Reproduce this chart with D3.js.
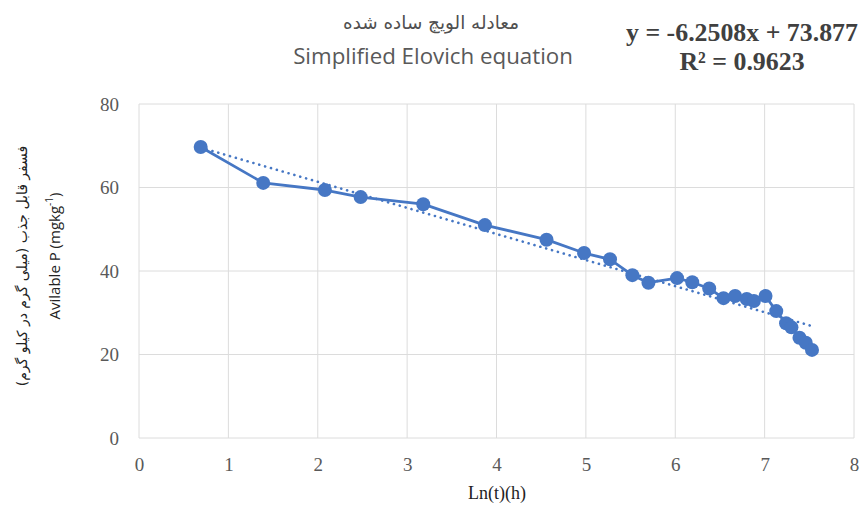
<!DOCTYPE html>
<html>
<head>
<meta charset="utf-8">
<script src="https://cdn.jsdelivr.net/npm/d3@7"></script>
<style>
  html, body { margin: 0; padding: 0; background: #fff; }
  svg { display: block; }
</style>
</head>
<body>
<svg id="chart" width="867" height="511"></svg>
<script>
// ---- data ----
const lnT = [0.69, 1.39, 2.08, 2.48, 3.18, 3.87, 4.56, 4.98, 5.27, 5.52, 5.70,
             6.02, 6.19, 6.38, 6.54, 6.67, 6.80, 6.88, 7.01, 7.13, 7.24, 7.30, 7.39, 7.46, 7.53];
const availP = [69.7, 61.1, 59.4, 57.7, 56.0, 51.0, 47.5, 44.3, 42.8, 39.0, 37.2,
                38.3, 37.3, 35.8, 33.5, 34.0, 33.3, 32.8, 34.0, 30.4, 27.5, 26.5, 24.0, 22.8, 21.1];
const xTicks = [0, 1, 2, 3, 4, 5, 6, 7, 8];
const yTicks = [0, 20, 40, 60, 80];
const slope = -6.2508, intercept = 73.877;
const titleFa = "معادله الویچ ساده شده";
const titleEn = "Simplified Elovich equation";
const eqText = "y = -6.2508x + 73.877";
const r2Text = "R² = 0.9623";
const xLabel = "Ln(t)(h)";
const yLabelFa = "فسفر قابل جذب (میلی گرم در کیلو گرم)";

// ---- layout ----
const svg = d3.select("#chart");
const L = 139, R = 854, T = 104, B = 438;
const x = d3.scaleLinear().domain([0, 8]).range([L, R]);
const y = d3.scaleLinear().domain([0, 80]).range([B, T]);
const blue = "#4677c4";
const grid = "#dcdcdc";

function fit(t, base, w) {
  const len = t.node().getComputedTextLength();
  t.attr("font-size", base * w / len);
}

// gridlines
svg.append("g").selectAll("line").data(xTicks).join("line")
  .attr("x1", d => x(d)).attr("x2", d => x(d)).attr("y1", T).attr("y2", B)
  .attr("stroke", grid).attr("stroke-width", 1);
svg.append("g").selectAll("line").data(yTicks).join("line")
  .attr("x1", L).attr("x2", R).attr("y1", d => y(d)).attr("y2", d => y(d))
  .attr("stroke", grid).attr("stroke-width", 1);

// axes (labels only)
const xAxis = svg.append("g").attr("transform", `translate(0,${B})`)
  .call(d3.axisBottom(x).tickValues(xTicks).tickSize(0).tickPadding(20).tickFormat(d3.format("d")));
const yAxis = svg.append("g").attr("transform", `translate(${L},0)`)
  .call(d3.axisLeft(y).tickValues(yTicks).tickSize(0).tickPadding(20).tickFormat(d3.format("d")));
[xAxis, yAxis].forEach(a => {
  a.select(".domain").remove();
  a.selectAll("text").attr("font-family", "'Liberation Serif', 'DejaVu Serif', serif")
    .attr("font-size", 19).attr("fill", "#595959");
});
xAxis.selectAll("text").attr("dy", "0.71em");

// trendline (dotted)
const x0 = d3.min(lnT), x1 = d3.max(lnT);
svg.append("line")
  .attr("x1", x(x0)).attr("y1", y(slope * x0 + intercept))
  .attr("x2", x(x1)).attr("y2", y(slope * x1 + intercept))
  .attr("stroke", blue).attr("stroke-width", 2.6)
  .attr("stroke-dasharray", "0.1 6").attr("stroke-linecap", "round");

// series line
const pts = lnT.map((d, i) => [d, availP[i]]);
svg.append("path").datum(pts)
  .attr("d", d3.line().x(d => x(d[0])).y(d => y(d[1])))
  .attr("fill", "none").attr("stroke", blue).attr("stroke-width", 2.8)
  .attr("stroke-linejoin", "round");
svg.append("g").selectAll("circle").data(pts).join("circle")
  .attr("cx", d => x(d[0])).attr("cy", d => y(d[1])).attr("r", 7)
  .attr("fill", blue);

// titles
const tfa = svg.append("text").attr("x", 431).attr("y", 29).attr("text-anchor", "middle")
  .attr("font-family", "'DejaVu Sans', 'Noto Sans', sans-serif").attr("font-size", 18)
  .attr("fill", "#505050").attr("direction", "rtl").text(titleFa);
fit(tfa, 18, 176);
const ten = svg.append("text").attr("x", 433).attr("y", 64).attr("text-anchor", "middle")
  .attr("font-family", "'Open Sans', 'Noto Sans', sans-serif").attr("font-size", 18)
  .attr("fill", "#595959").text(titleEn);
fit(ten, 18, 280);

// equation
const eq = svg.append("text").attr("x", 742).attr("y", 41).attr("text-anchor", "middle")
  .attr("font-family", "'Liberation Serif', serif").attr("font-weight", "bold")
  .attr("font-size", 22).attr("fill", "#404040").text(eqText);
fit(eq, 22, 232);
const r2 = svg.append("text").attr("x", 742).attr("y", 70).attr("text-anchor", "middle")
  .attr("font-family", "'Liberation Serif', serif").attr("font-weight", "bold")
  .attr("font-size", eq.attr("font-size")).attr("fill", "#404040").text(r2Text);

// x label
svg.append("text").attr("x", 497).attr("y", 499).attr("text-anchor", "middle")
  .attr("font-family", "'Liberation Serif', serif").attr("font-size", 18)
  .attr("fill", "#222").text(xLabel);

// y labels (rotated)
const ylg = svg.append("g");
ylg.append("text").attr("transform", "translate(27,266) rotate(-90)")
  .attr("text-anchor", "middle").attr("direction", "rtl")
  .attr("font-family", "'DejaVu Sans', sans-serif").attr("font-size", 14)
  .attr("fill", "#222").text(yLabelFa);
const yen = ylg.append("text").attr("transform", "translate(60,256) rotate(-90)")
  .attr("text-anchor", "middle")
  .attr("font-family", "'Open Sans', 'Noto Sans', sans-serif").attr("font-size", 15)
  .attr("fill", "#222");
yen.append("tspan").text("Avilable P (mgkg");
yen.append("tspan").attr("baseline-shift", "super").attr("font-size", 10).text("-1");
yen.append("tspan").text(")");
</script>
</body>
</html>
